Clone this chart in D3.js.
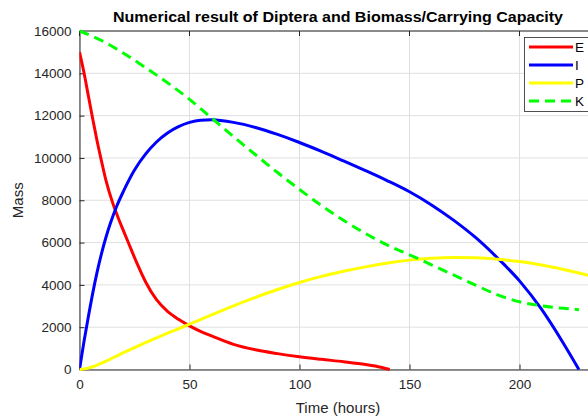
<!DOCTYPE html>
<html>
<head>
<meta charset="utf-8">
<script src="https://cdnjs.cloudflare.com/ajax/libs/d3/7.8.5/d3.min.js"></script>
<style>
  body { margin: 0; background: #fff; overflow: hidden; }
  svg { display: block; font-family: "Liberation Sans", Arial, sans-serif; }
</style>
</head>
<body>
<div class="graph"></div>
<script>
// values (time in hours, mass)
var timeE = [0, 2, 4, 6, 8, 10, 12, 15, 17, 20, 22, 26, 30, 35, 40, 45, 50, 55, 60, 70, 80, 90, 100, 110, 120, 130, 137, 141];
var massE = [15000, 14050, 12950, 11850, 10800, 9850, 8950, 7900, 7330, 6550, 6050, 5050, 4150, 3300, 2750, 2370, 2060, 1800, 1590, 1190, 930, 750, 600, 480, 370, 240, 110, 0];

var timeI = [0, 2, 4, 6, 8, 10, 12, 14, 17, 20, 25, 30, 35, 40, 45, 50, 55, 60, 70, 80, 90,
             100, 110, 120, 130, 140, 150, 160, 170, 180, 190, 200, 210, 220, 227];
var massI = [0, 1300, 2480, 3600, 4600, 5480, 6240, 6900, 7740, 8430, 9430, 10180, 10755, 11180, 11480, 11680, 11780, 11800, 11680, 11440, 11110,
             10730, 10310, 9860, 9400, 8920, 8400, 7780, 7060, 6240, 5270, 4190, 2850, 1230, 0];

var timeP = [0, 2, 4, 6, 8, 10, 12, 15, 20, 25, 30, 35, 40, 45, 50, 55, 60, 70, 80, 90,
             100, 110, 120, 130, 140, 150, 160, 170, 180, 190, 200, 210, 220, 227, 235];
var massP = [0, 20, 64, 128, 208, 298, 394, 544, 794, 1039, 1274, 1499, 1716, 1926, 2141, 2360, 2580, 3010, 3410, 3780,
             4110, 4400, 4640, 4850, 5030, 5170, 5260, 5295, 5280, 5215, 5100, 4935, 4725, 4560, 4350];

var timeK = [0, 10, 20, 30, 40, 50, 60, 70, 80, 90, 100, 110, 120, 130, 140, 150, 160, 170, 180, 190, 200, 210, 220, 227];
var massK = [16000, 15550, 14950, 14270, 13550, 12770, 11890, 11010, 10150, 9310, 8510, 7750, 7050, 6430, 5880, 5420, 4950, 4470, 3990, 3530, 3200, 3010, 2890, 2827];

var seriesNames = ["E", "I", "P", "K"];
var seriesColors = ["#ff0000", "#0000ff", "#ffff00", "#00ff00"];
var xTicks = [0, 50, 100, 150, 200];
var yTicks = [0, 2000, 4000, 6000, 8000, 10000, 12000, 14000, 16000];

var allTimes = [timeE, timeI, timeP, timeK];
var allMass = [massE, massI, massP, massK];

var svg = d3.select(".graph")
   .append("svg")
   .attr("width", 588)
   .attr("height", 420);

// axes box runs a bit past the right edge of the picture
var plotLeft = 79.5, plotRight = 596.5, plotTop = 31, plotBottom = 369.5;

var x = d3.scaleLinear().domain([0, 235]).range([plotLeft, plotRight]);
var y = d3.scaleLinear().domain([0, 16000]).range([plotBottom, plotTop]);

var axisColor = "#262626";

// grid lines
svg.append("g")
	.selectAll("line")
	.data(xTicks)
	.enter()
	.append("line")
	.attr("x1", function(d){ return x(d); })
	.attr("x2", function(d){ return x(d); })
	.attr("y1", plotTop)
	.attr("y2", plotBottom)
	.attr("stroke", "#dfdfdf")
	.attr("stroke-width", 1);

svg.append("g")
	.selectAll("line")
	.data(yTicks)
	.enter()
	.append("line")
	.attr("x1", plotLeft)
	.attr("x2", plotRight)
	.attr("y1", function(d){ return y(d); })
	.attr("y2", function(d){ return y(d); })
	.attr("stroke", "#dfdfdf")
	.attr("stroke-width", 1);

// axes, ticks pointing inwards like matlab
var xAxis = d3.axisBottom(x).tickValues(xTicks).tickSizeInner(-5).tickSizeOuter(0).tickPadding(10);
var yAxis = d3.axisLeft(y).tickValues(yTicks).tickSizeInner(-5).tickSizeOuter(0).tickPadding(8).tickFormat(d3.format("d"));

var gx = svg.append("g")
	.attr("transform", "translate(0," + plotBottom + ")")
	.call(xAxis);
var gy = svg.append("g")
	.attr("transform", "translate(" + plotLeft + ",0)")
	.call(yAxis);

[gx, gy].forEach(function(g){
	g.select(".domain").attr("stroke", axisColor);
	g.selectAll(".tick line").attr("stroke", axisColor);
	g.selectAll(".tick text")
		.attr("fill", axisColor)
		.attr("font-size", "13.5px")
		.attr("font-family", "Liberation Sans, Arial, sans-serif");
});

// top border with ticks
svg.append("line")
	.attr("x1", plotLeft).attr("x2", plotRight)
	.attr("y1", plotTop).attr("y2", plotTop)
	.attr("stroke", axisColor);
svg.append("g")
	.selectAll("line")
	.data(xTicks)
	.enter()
	.append("line")
	.attr("x1", function(d){ return x(d); })
	.attr("x2", function(d){ return x(d); })
	.attr("y1", plotTop)
	.attr("y2", plotTop + 5)
	.attr("stroke", axisColor);

// the curves
svg.append("clipPath").attr("id", "plotArea")
	.append("rect")
	.attr("x", plotLeft).attr("y", plotTop - 2)
	.attr("width", plotRight - plotLeft).attr("height", plotBottom - plotTop + 4);

allMass.forEach(function(values, i){
	var times = allTimes[i];
	var line = d3.line()
		.x(function(d, j){ return x(times[j]); })
		.y(function(d){ return y(d); })
		.curve(d3.curveMonotoneX);

	svg.append("path")
		.datum(values)
		.attr("clip-path", "url(#plotArea)")
		.attr("fill", "none")
		.attr("stroke", seriesColors[i])
		.attr("stroke-width", 3)
		.attr("stroke-dasharray", i == 3 ? "10,6" : null)
		.attr("d", line);
});

// title and labels
svg.append("text")
	.attr("x", (plotLeft + plotRight) / 2)
	.attr("y", 22)
	.attr("text-anchor", "middle")
	.attr("font-size", "14px")
	.attr("font-weight", "bold")
	.attr("fill", "#000")
	.attr("textLength", 450)
	.attr("lengthAdjust", "spacingAndGlyphs")
	.text("Numerical result of Diptera and Biomass/Carrying Capacity");

svg.append("text")
	.attr("x", (plotLeft + plotRight) / 2)
	.attr("y", 413)
	.attr("text-anchor", "middle")
	.attr("font-size", "15px")
	.attr("fill", axisColor)
	.text("Time (hours)");

svg.append("text")
	.attr("transform", "translate(23," + ((plotTop + plotBottom) / 2) + ") rotate(-90)")
	.attr("text-anchor", "middle")
	.attr("font-size", "15px")
	.attr("fill", axisColor)
	.text("Mass");

// legend
var legend = svg.append("g");
legend.append("rect")
	.attr("x", 524.5)
	.attr("y", 37.5)
	.attr("width", 80)
	.attr("height", 74)
	.attr("fill", "#fff")
	.attr("stroke", axisColor)
	.attr("stroke-width", 0.8);

var legendItems = legend.selectAll("g.item")
	.data(seriesNames)
	.enter()
	.append("g")
	.attr("class", "item")
	.attr("transform", function(d, i){ return "translate(0," + (47 + i * 18) + ")"; });

legendItems.append("line")
	.attr("x1", 529)
	.attr("x2", 573)
	.attr("y1", 0)
	.attr("y2", 0)
	.attr("stroke", function(d, i){ return seriesColors[i]; })
	.attr("stroke-width", 3)
	.attr("stroke-dasharray", function(d, i){ return i == 3 ? "10,6" : null; });

legendItems.append("text")
	.attr("x", 575)
	.attr("y", 5)
	.attr("font-size", "13.5px")
	.attr("fill", "#000")
	.text(function(d){ return d; });
</script>
</body>
</html>
